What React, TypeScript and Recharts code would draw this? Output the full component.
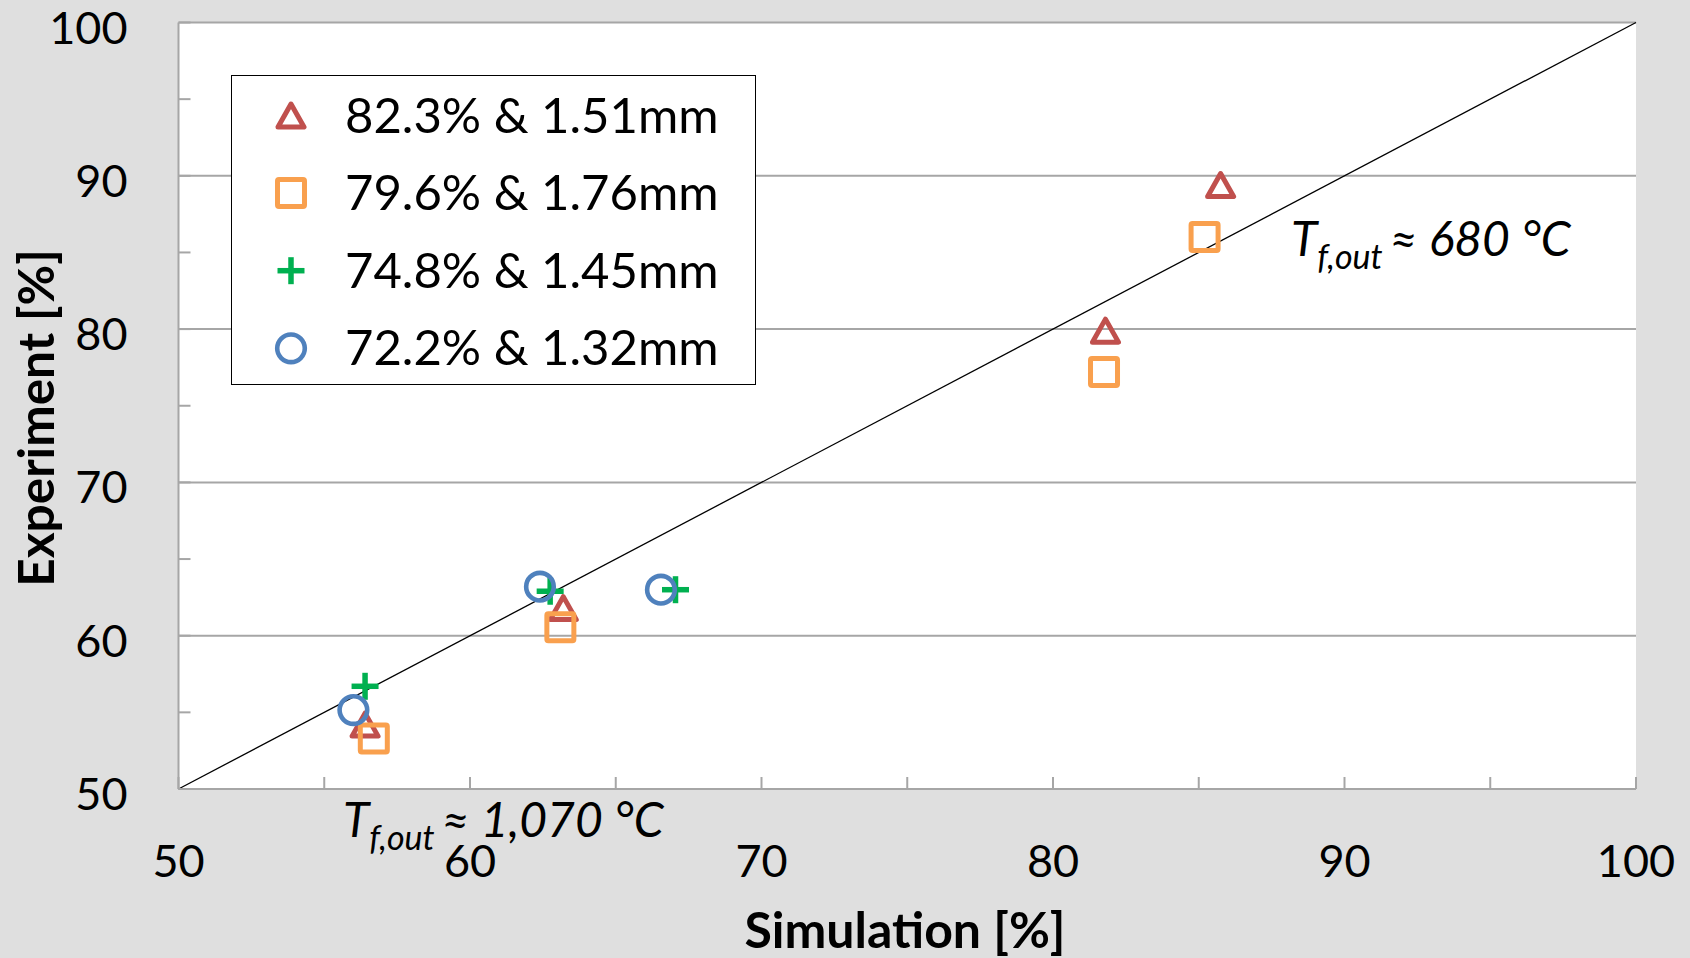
import React from 'react';
import { CartesianGrid, Legend, ReferenceLine, Scatter, ScatterChart, XAxis, YAxis } from 'recharts';

// ticks every 5, labels every 10
const xTicks = [50, 55, 60, 65, 70, 75, 80, 85, 90, 95, 100];
const yTicks = [50, 55, 60, 65, 70, 75, 80, 85, 90, 95, 100];
const gridValues = [60, 70, 80, 90, 100];

const tri823 = [
  { x: 85.75, y: 89.4 },
  { x: 81.8, y: 79.9 },
  { x: 63.2, y: 61.8 },
  { x: 56.4, y: 54.2 },
];
const sq796 = [
  { x: 85.2, y: 86.0 },
  { x: 81.75, y: 77.2 },
  { x: 63.1, y: 60.55 },
  { x: 56.7, y: 53.3 },
];
const plus748 = [
  { x: 56.4, y: 56.7 },
  { x: 62.75, y: 62.9 },
  { x: 67.05, y: 63.0 },
];
const circ722 = [
  { x: 56.0, y: 55.15 },
  { x: 62.4, y: 63.2 },
  { x: 66.55, y: 63.0 },
];

const FONT = "Lato, 'Open Sans', sans-serif";
const GRAY = '#a6a6a6';

const triangle = (cx: number, cy: number) => (
  <path
    d={`M${cx},${cy - 11.5} L${cx + 13},${cy + 11.5} L${cx - 13},${cy + 11.5} Z`}
    fill="none"
    stroke="#c0504d"
    strokeWidth={5}
    strokeLinejoin="round"
  />
);
const square = (cx: number, cy: number) => (
  <rect x={cx - 13.5} y={cy - 13.5} width={27} height={27} rx={1.5} fill="none" stroke="#f9a04e" strokeWidth={5} />
);
const plus = (cx: number, cy: number) => (
  <g stroke="#00b050" strokeWidth={5.5}>
    <line x1={cx - 13.5} x2={cx + 13.5} y1={cy} y2={cy} />
    <line x1={cx} x2={cx} y1={cy - 13.5} y2={cy + 13.5} />
  </g>
);
const circle = (cx: number, cy: number) => (
  <circle cx={cx} cy={cy} r={13.8} fill="none" stroke="#4f81bd" strokeWidth={4.6} />
);

const SERIES = [
  { name: '82.3% & 1.51mm', data: tri823, marker: triangle },
  { name: '79.6% & 1.76mm', data: sq796, marker: square },
  { name: '74.8% & 1.45mm', data: plus748, marker: plus },
  { name: '72.2% & 1.32mm', data: circ722, marker: circle },
];

const XTick = (props: any) => {
  const { x, y, payload } = props;
  const v = payload.value;
  return (
    <g>
      <line x1={x} x2={x} y1={y} y2={y - 12} stroke={GRAY} strokeWidth={2} />
      {v % 10 === 0 && (
        <text x={x} y={y + 88} textAnchor="middle" fontFamily={FONT} fontSize={45} fill="#000">
          {v}
        </text>
      )}
    </g>
  );
};

const YTick = (props: any) => {
  const { x, y, payload } = props;
  const v = payload.value;
  return (
    <g>
      <line x1={x} x2={x + 12} y1={y} y2={y} stroke={GRAY} strokeWidth={2} />
      {v % 10 === 0 && (
        <text x={x - 51} y={y + 21} textAnchor="end" fontFamily={FONT} fontSize={45} fill="#000">
          {v}
        </text>
      )}
    </g>
  );
};

const LegendBox = () => (
  <div style={{ width: 525, height: 310, boxSizing: 'border-box', border: '1.5px solid #000', background: '#fff' }}>
    <svg width={522} height={307} style={{ display: 'block' }}>
      {SERIES.map((s, i) => {
        const cy = 39.5 + i * 77.6;
        return (
          <g key={s.name}>
            {s.marker(59, cy)}
            <text x={113} y={cy + 17} fontFamily={FONT} fontSize={49} fill="#000">
              {s.name}
            </text>
          </g>
        );
      })}
    </svg>
  </div>
);

const noteStyle: React.CSSProperties = {
  position: 'absolute',
  fontFamily: FONT,
  fontStyle: 'italic',
  fontSize: 48,
  lineHeight: 1,
  whiteSpace: 'nowrap',
  color: '#000',
};
const subStyle: React.CSSProperties = { fontSize: 34, position: 'relative', top: 13, marginRight: 7 };

export default function App() {
  return (
    <div style={{ position: 'absolute', left: 0, top: 0, width: 1690, height: 958, background: '#dfdfdf' }}>
      <ScatterChart width={1690} height={958} margin={{ top: 22.5, right: 54, bottom: 69, left: 58.5 }}>
        <CartesianGrid horizontalValues={gridValues} vertical={false} fill="#fff" stroke={GRAY} strokeWidth={2} />
        <XAxis
          type="number"
          dataKey="x"
          domain={[50, 100]}
          ticks={xTicks}
          interval={0}
          height={100}
          tickSize={0}
          tickMargin={0}
          tickLine={false}
          axisLine={{ stroke: GRAY, strokeWidth: 2 }}
          tick={XTick}
          label={() => (
            <text x={905} y={948} textAnchor="middle" fontFamily={FONT} fontWeight={700} fontSize={50} fill="#000">
              Simulation [%]
            </text>
          )}
        />
        <YAxis
          type="number"
          dataKey="y"
          domain={[50, 100]}
          ticks={yTicks}
          interval={0}
          width={120}
          tickSize={0}
          tickMargin={0}
          tickLine={false}
          axisLine={{ stroke: GRAY, strokeWidth: 2 }}
          tick={YTick}
          label={() => (
            <text
              x={54}
              y={418}
              transform="rotate(-90, 54, 418)"
              textAnchor="middle"
              fontFamily={FONT}
              fontWeight={700}
              fontSize={49.5}
              fill="#000"
            >
              Experiment [%]
            </text>
          )}
        />
        <ReferenceLine
          segment={[
            { x: 50, y: 50 },
            { x: 100, y: 100 },
          ]}
          stroke="#000"
          strokeWidth={1.3}
        />
        {SERIES.map((s) => (
          <Scatter
            key={s.name}
            name={s.name}
            data={s.data}
            isAnimationActive={false}
            shape={(p: any) => s.marker(p.cx, p.cy)}
          />
        ))}
        <Legend
          layout="vertical"
          align="center"
          verticalAlign="middle"
          content={() => <LegendBox />}
          wrapperStyle={{ position: 'absolute', left: 230.5, top: 74.5, width: 525, height: 310 }}
        />
      </ScatterChart>
      <div style={{ ...noteStyle, left: 1291, top: 214 }}>
        T<span style={subStyle}>f,out</span>≈ 680 °C
      </div>
      <div style={{ ...noteStyle, left: 343, top: 795 }}>
        T<span style={subStyle}>f,out</span>≈ 1,070 °C
      </div>
    </div>
  );
}
